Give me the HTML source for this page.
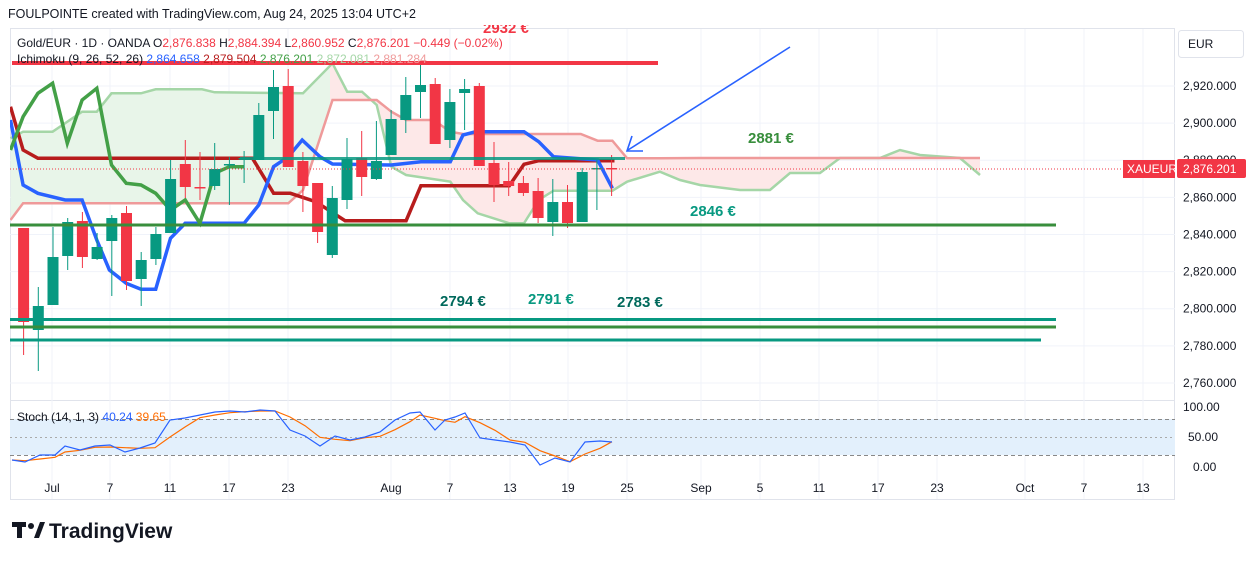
<!DOCTYPE html>
<html><head><meta charset="utf-8"><style>
html,body{margin:0;padding:0;background:#fff;width:1257px;height:561px;overflow:hidden}
svg{display:block;font-family:"Liberation Sans",sans-serif}
</style></head><body>
<svg id="s" width="1257" height="561" viewBox="0 0 1257 561" xmlns="http://www.w3.org/2000/svg">
<defs>
<clipPath id="cg"><rect x="0" y="0" width="330" height="400"/></clipPath>
<clipPath id="cp"><rect x="330" y="0" width="700" height="400"/></clipPath>
<clipPath id="main"><rect x="10" y="28" width="1165" height="372"/></clipPath>
<clipPath id="top"><rect x="0" y="25" width="1175" height="20"/></clipPath>
</defs>
<text x="8" y="18" font-size="12.5" fill="#131722">FOULPOINTE created with TradingView.com, Aug 24, 2025 13:04 UTC+2</text>
<rect x="10.5" y="28.5" width="1164" height="471" fill="none" stroke="#e0e3eb"/>
<line x1="10" y1="400.5" x2="1175" y2="400.5" stroke="#e0e3eb"/>
<g id="grid" stroke="#f0f3fa"></g>
<rect x="10" y="419" width="1165" height="36" fill="#e3f0fc"/>
<line x1="10" y1="419.5" x2="1175" y2="419.5" stroke="#888" stroke-dasharray="4,3"/>
<line x1="10" y1="437.5" x2="1175" y2="437.5" stroke="#aaa" stroke-dasharray="2,3"/>
<line x1="10" y1="455.5" x2="1175" y2="455.5" stroke="#888" stroke-dasharray="4,3"/>
<g clip-path="url(#main)" id="ichi"></g>
<g id="candles"></g>
<line x1="12" y1="63" x2="658" y2="63" stroke="#f23645" stroke-width="4"/>
<line x1="10" y1="225" x2="1056" y2="225" stroke="#388e3c" stroke-width="3"/>
<line x1="10" y1="319.5" x2="1056" y2="319.5" stroke="#089981" stroke-width="3"/>
<line x1="10" y1="327" x2="1056" y2="327" stroke="#388e3c" stroke-width="3"/>
<line x1="10" y1="340" x2="1041" y2="340" stroke="#089981" stroke-width="3"/>
<line x1="240" y1="158.5" x2="625" y2="158.5" stroke="#089981" stroke-width="3" opacity="0.85"/>
<line x1="10" y1="169" x2="1122" y2="169" stroke="#f23645" stroke-dasharray="1,2"/>
<line x1="790" y1="47" x2="628" y2="150" stroke="#2962ff" stroke-width="1.6"/>
<polyline points="632,136 627,151 643,151" fill="none" stroke="#2962ff" stroke-width="1.6"/>
<g clip-path="url(#top)"><text x="483" y="33" font-size="15" font-weight="bold" fill="#f23645">2932 €</text></g>
<text x="748" y="143" font-size="15" font-weight="bold" fill="#388e3c">2881 €</text>
<text x="690" y="216" font-size="15" font-weight="bold" fill="#089981">2846 €</text>
<text x="440" y="306" font-size="15" font-weight="bold" fill="#00695c">2794 €</text>
<text x="528" y="304" font-size="15" font-weight="bold" fill="#089981">2791 €</text>
<text x="617" y="307" font-size="15" font-weight="bold" fill="#00695c">2783 €</text>
<text x="17" y="47" font-size="12" fill="#131722">Gold/EUR · 1D · OANDA  <tspan>O</tspan><tspan fill="#f23645">2,876.838</tspan>  H<tspan fill="#f23645">2,884.394</tspan>  L<tspan fill="#f23645">2,860.952</tspan>  C<tspan fill="#f23645">2,876.201</tspan>  <tspan fill="#f23645">−0.449 (−0.02%)</tspan></text>
<text x="17" y="63" font-size="12" fill="#131722">Ichimoku (9, 26, 52, 26) <tspan fill="#2962ff">2,864.658</tspan> <tspan fill="#b71c1c">2,879.504</tspan> <tspan fill="#43a047">2,876.201</tspan> <tspan fill="#a5d6a7">2,872.081</tspan> <tspan fill="#ef9a9a">2,881.284</tspan></text>
<text x="17" y="421" font-size="12" fill="#131722">Stoch (14, 1, 3) <tspan fill="#2962ff">40.24</tspan> <tspan fill="#ff6d00">39.65</tspan></text>
<rect x="1178.5" y="30.5" width="65" height="27" rx="3" fill="#fff" stroke="#e0e3eb"/>
<text x="1188" y="48" font-size="12" fill="#131722">EUR</text>
<g id="paxis" font-size="12" fill="#131722"></g>
<rect x="1123" y="160" width="52" height="18" fill="#f23645"/>
<text x="1127" y="173" font-size="12" fill="#fff">XAUEUR</text>
<rect x="1177" y="159" width="69" height="19" rx="2" fill="#f23645"/>
<text x="1183" y="173" font-size="12" fill="#fff">2,876.201</text>
<text x="1183" y="411" font-size="12" fill="#131722">100.00</text>
<text x="1188" y="441" font-size="12" fill="#131722">50.00</text>
<text x="1193" y="471" font-size="12" fill="#131722">0.00</text>
<g id="xaxis" font-size="12" fill="#131722" text-anchor="middle">
<text x="52" y="492">Jul</text><text x="110" y="492">7</text><text x="170" y="492">11</text><text x="229" y="492">17</text><text x="288" y="492">23</text><text x="391" y="492">Aug</text><text x="450" y="492">7</text><text x="510" y="492">13</text><text x="568" y="492">19</text><text x="627" y="492">25</text><text x="701" y="492">Sep</text><text x="760" y="492">5</text><text x="819" y="492">11</text><text x="878" y="492">17</text><text x="937" y="492">23</text><text x="1025" y="492">Oct</text><text x="1084" y="492">7</text><text x="1143" y="492">13</text>
</g>
<g id="stoch"></g>
<rect x="12" y="522" width="14" height="5" fill="#131722"/><rect x="17" y="522" width="5" height="16" fill="#131722"/>
<circle cx="31" cy="526" r="3" fill="#131722"/><polygon points="34,538 40,522 45,522 39,538" fill="#131722"/>
<text x="49" y="538" font-size="21" font-weight="bold" fill="#131722">TradingView</text>
</svg>
<script>
const NS="http://www.w3.org/2000/svg";
function el(p,t,a){const e=document.createElementNS(NS,t);for(const k in a)e.setAttribute(k,a[k]);document.getElementById(p).appendChild(e);return e;}
[52,110,170,229,288,391,450,510,568,627,701,760,819,878,937,1025,1084,1143].forEach(x=>el("grid","line",{x1:x,y1:29,x2:x,y2:499}));
const Y=p=>86+(2920-p)*1.856;
for(let p=2760;p<=2920;p+=20){const y=Y(p);el("grid","line",{x1:10,y1:y,x2:1175,y2:y});
 const t=el("paxis","text",{x:1183,y:y+4});t.textContent=p.toLocaleString("en-US")+".000";}
const cv=(arr)=>arr.map(([x,y])=>[x/2.376,y/3+60]);
const A=cv([[25,235],[55,215],[125,215],[195,155],[230,155],[265,100],[335,100],[370,88],[480,88],[510,97],[720,100],[790,10],[825,95],[860,95],[895,135],[930,320],[965,345],[1070,365],[1100,420],[1135,460],[1210,490],[1245,490],[1280,420],[1315,392],[1455,392],[1490,365],[1568,335]]).concat([[680,180],[700,185],[740,190],[770,190],[790,173],[820,173],[840,158],[880,158],[900,150],[920,155],[960,158],[980,175]]);
const B=cv([[25,480],[55,430],[685,430],[720,390],[790,120],[895,120],[930,155],[965,180],[1030,180],[1070,215],[1100,222],[1380,222],[1420,242],[1455,242],[1490,295],[1568,295]]).concat([[700,158],[980,158]]);
const pts=a=>a.map(p=>p[0].toFixed(1)+","+p[1].toFixed(1)).join(" ");
const poly=pts(A)+" "+pts(B.slice().reverse());
el("ichi","polygon",{points:poly,fill:"#e8f5e9","clip-path":"url(#cg)"});
el("ichi","polygon",{points:poly,fill:"#fde8e8","clip-path":"url(#cp)"});
el("ichi","polyline",{points:pts(A),fill:"none",stroke:"#a5d6a7","stroke-width":2.5});
el("ichi","polyline",{points:pts(B),fill:"none",stroke:"#ef9a9a","stroke-width":2.5});
el("ichi","polyline",{points:pts(cv([[25,140],[55,270],[90,295],[600,295],[650,400],[690,400],[750,425],[820,482],[965,482],[1000,377],[1210,377],[1245,313],[1280,302],[1460,302]])),fill:"none",stroke:"#b71c1c","stroke-width":3.5});
el("ichi","polyline",{points:pts(cv([[25,180],[55,375],[90,400],[155,420],[195,420],[230,540],[260,630],[300,670],[335,688],[370,688],[405,535],[440,490],[580,490],[615,435],[650,320],[685,290],[718,240],[760,290],[790,312],[930,315],[1000,305],[1070,305],[1100,225],[1130,215],[1245,215],[1280,245],[1315,290],[1420,300],[1455,385]])),fill:"none",stroke:"#2962ff","stroke-width":3.5});
el("ichi","polyline",{points:pts(cv([[25,270],[55,170],[90,100],[125,70],[160,250],[195,120],[230,85],[265,315],[300,370],[335,375],[370,400],[405,450],[440,420],[475,490],[510,340],[545,320],[580,320]])),fill:"none",stroke:"#43a047","stroke-width":3.5});
const C=[[0,228,322,228,355],[1,306,330,287,371],[1,257,305,227,305],[1,222,256,218,270],[0,221,257,212,268],[1,247,259,233,260],[1,218,241,215,296],[0,213,281,206,290],[1,260,279,252,306],[1,234,259,227,265],[1,179,233,160,233],[0,164,187,140,198],[0,187,188,152,200],[1,169,186,143,190],[1,164,165,157,205],[1,158,159,151,183],[1,115,160,103,160],[1,87,111,70,139],[0,86,167,69,167],[0,161,186,152,212],[0,183,232,183,243],[1,198,255,186,258],[1,159,200,138,209],[0,158,177,131,196],[1,161,179,121,180],[1,119,155,110,155],[1,95,120,77,133],[1,85,92,65,118],[0,84,144,78,144],[1,102,140,89,148],[1,89,93,79,130],[0,86,166,83,166],[0,163,185,142,202],[0,181,186,162,196],[0,183,193,176,196],[0,191,218,178,223],[1,202,222,179,236],[0,202,223,185,228],[1,172,222,168,222],[1,168,169,160,210],[0,168,169,155,196]];
C.forEach((c,i)=>{const x=23.6+14.7*i,col=c[0]?"#089981":"#f23645";
 el("candles","line",{x1:x,y1:c[3],x2:x,y2:c[4],stroke:col,"stroke-width":1});
 el("candles","rect",{x:x-5.5,y:c[1],width:11,height:Math.max(1.5,c[2]-c[1]),fill:col});});
const K=[[12,460],[25,462],[40,455],[55,455],[65,446],[80,450],[95,446],[110,445],[125,452],[140,448],[155,443],[170,420],[185,418],[200,415],[215,412],[230,411],[245,412],[260,410],[275,411],[290,430],[305,436],[320,446],[335,436],[350,440],[365,437],[380,432],[395,420],[410,413],[420,412],[435,430],[445,420],[455,417],[465,413],[480,438],[495,440],[510,442],[525,445],[540,465],[555,458],[570,462],[585,442],[600,441],[612,442]];
const D=K.map((p,i)=>{const a=K[Math.max(0,i-1)],b=K[Math.max(0,i-2)];return[p[0],(p[1]+a[1]+b[1])/3];});
el("stoch","polyline",{points:pts(D),fill:"none",stroke:"#ff6d00","stroke-width":1.2});
el("stoch","polyline",{points:pts(K),fill:"none",stroke:"#2962ff","stroke-width":1.2});
</script>
</body></html>
